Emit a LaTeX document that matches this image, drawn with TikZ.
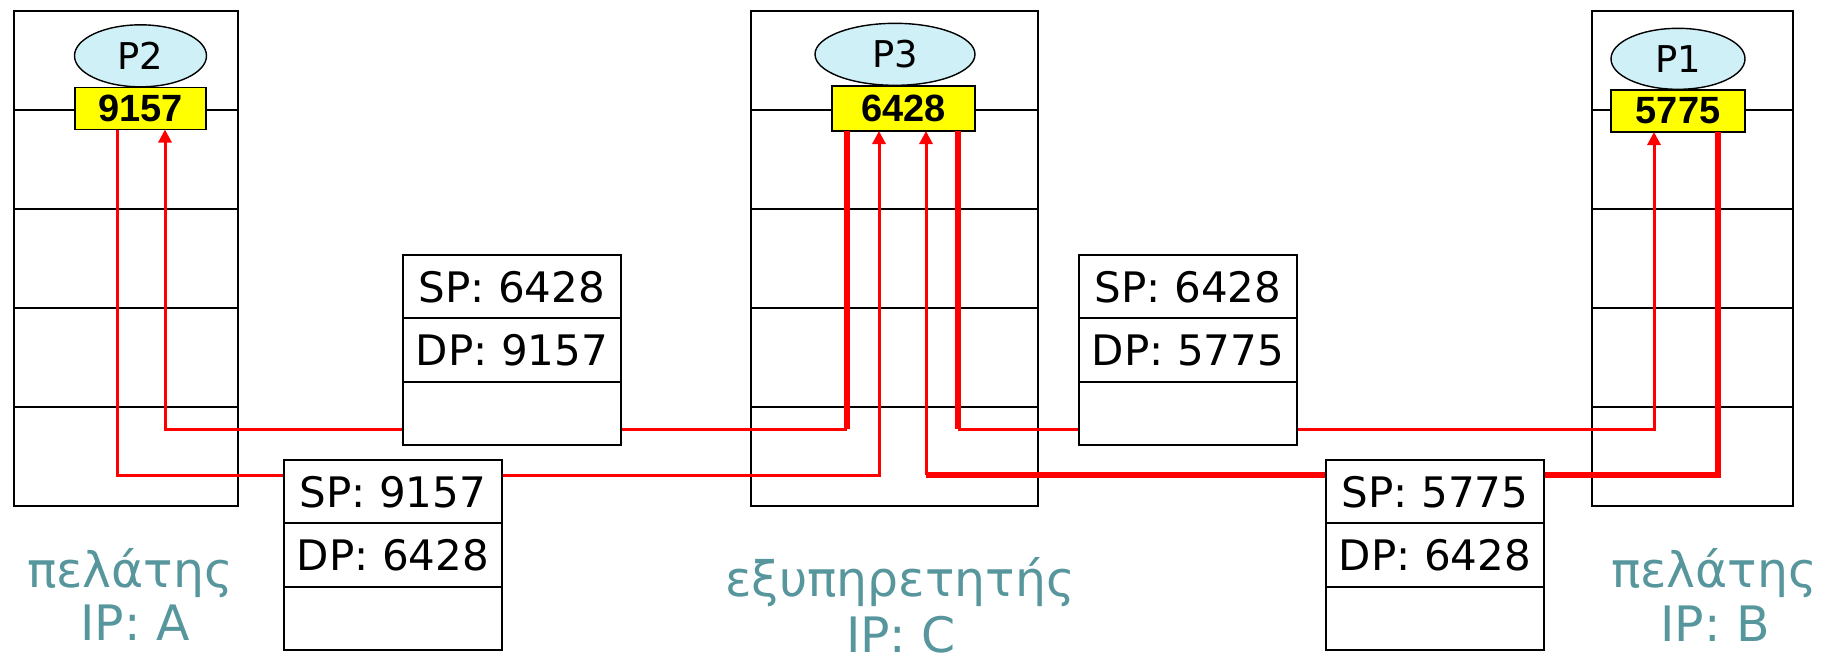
\documentclass[tikz,border=0pt]{standalone}
\usepackage{fontspec}
\setmainfont{DejaVu Sans}
\newfontfamily\portfont{Liberation Sans}
\usepackage{tikz}
\usetikzlibrary{arrows.meta, positioning, shapes.geometric}
\definecolor{colProc}{RGB}{206,240,246}
\definecolor{colPort}{RGB}{255,255,0}
\definecolor{colLbl}{RGB}{86,150,156}

\begin{document}
\begin{tikzpicture}[
  x=0.1mm, y=-0.1mm,
  hostrow/.style={rectangle, draw, line width=0.5pt, minimum height=9.9mm,
                  inner sep=0pt, outer sep=0pt},
  proc/.style={ellipse, draw, line width=0.4pt, fill=colProc, inner sep=0pt,
               font=\fontsize{10.5}{12}\selectfont},
  port/.style={rectangle, draw, line width=0.5pt, fill=colPort, inner sep=0pt,
               outer sep=0pt, minimum height=4.2mm,
               font=\portfont\bfseries\fontsize{10.8}{12}\selectfont},
  seg/.style={rectangle, draw, line width=0.5pt, fill=white, minimum width=21.8mm,
              minimum height=6.33mm, inner sep=0pt, outer sep=0pt,
              font=\fontsize{11.95}{14}\selectfont},
  lbl/.style={anchor=base, text=colLbl, inner sep=0pt,
              font=\fontsize{13.9}{16}\selectfont},
  lnk/.style={draw=red, line width=0.3mm},
  lnkthick/.style={draw=red, line width=0.55mm},
  narr/.style=-{Triangle[length=1.3mm, width=1.3mm]},
]
\useasboundingbox (0,0) rectangle (1828,659);

% hosts
\foreach \h/\cx/\w in {A/126/22.4, C/894.5/28.7, B/1692.5/20.1}
  \foreach \r in {0,...,4}
    \node[hostrow, minimum width=\w mm] (h\h\r) at (\cx, 60.5+99*\r) {};

% ports and processes
\node[port, minimum width=13.1mm] (pA) at (140.5,108.5) {9157};
\node[port, minimum width=14.3mm, minimum height=4.5mm] (pC) at (903.5,108.5) {6428};
\node[port, minimum width=13.4mm] (pB) at (1678,111) {5775};

\node[proc, minimum width=13.2mm, minimum height=6.2mm, above=0pt of pA] (eA) {P2};
\node[proc, minimum width=16mm, minimum height=6.2mm, above=0pt of pC, xshift=-0.85mm] (eC) {P3};
\node[proc, minimum width=13.4mm, minimum height=6.1mm, above=0pt of pB] (eB) {P1};

% turning points
\coordinate (aOut)  at (117,475);
\coordinate (aIn)   at (165,429);
\coordinate (cOutA) at (847,429);
\coordinate (cInA)  at (879,475);
\coordinate (cInB)  at (926,475);
\coordinate (cOutB) at (958,429);
\coordinate (bIn)   at (1654,429);
\coordinate (bOut)  at (1718,475);

% arrows
\draw[lnk, narr] (pA.south -| aOut) -- (aOut) -- (cInA) -- (pC.south -| cInA);
\draw[lnkthick] (pC.south -| cOutA) -- (cOutA);
\draw[lnk, narr] (cOutA) -- (aIn) -- (pA.south -| aIn);
\draw[lnkthick] (pC.south -| cOutB) -- (cOutB);
\draw[lnk, narr] (cOutB) -- (bIn) -- (pB.south -| bIn);
\draw[lnkthick] (pB.south -| bOut) -- (bOut) -- (cInB);
\draw[lnk, narr] (cInB) -- (pC.south -| cInB);

% segments
\foreach \g/\cx/\cy/\srcp/\dstp in {s1/512/286.7/6428/9157, s2/393/491.7/9157/6428,
                                   s3/1188/286.7/6428/5775, s4/1435/491.7/5775/6428} {
  \node[seg] (\g a) at (\cx,\cy) {SP: \srcp};
  \node[seg, below=0pt of \g a] (\g b) {DP: \dstp};
  \node[seg, below=0pt of \g b] (\g c) {};
}

% labels
\node[lbl] (nA)  at (130,587)  {πελάτης};
\node[lbl] (ipA) at (135,640)  {IP: A};
\node[lbl] (nC)  at (900,596)  {εξυπηρετητής};
\node[lbl] (ipC) at (901,652)  {IP: C};
\node[lbl] (nB)  at (1714,587) {πελάτης};
\node[lbl] (ipB) at (1715,641) {IP: B};

\end{tikzpicture}
\end{document}
